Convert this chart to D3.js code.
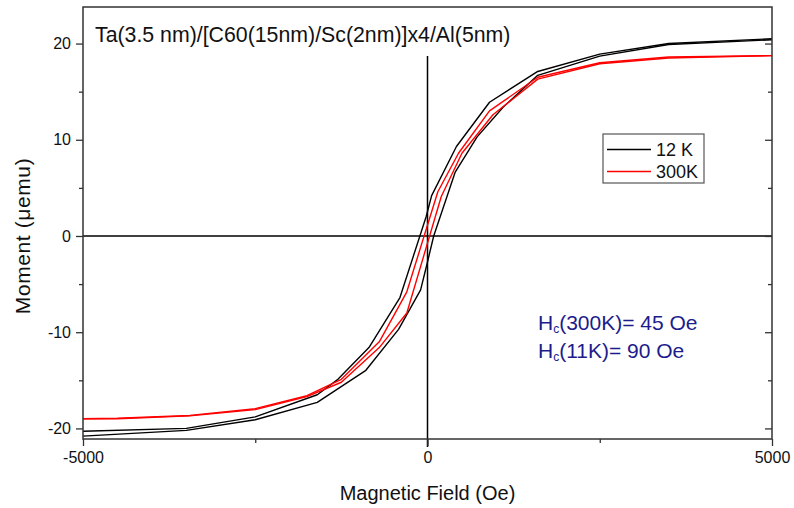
<!DOCTYPE html>
<html>
<head>
<meta charset="utf-8">
<script src="https://cdn.jsdelivr.net/npm/d3@7"></script>
<style>
  body { margin: 0; background: #fff; }
  svg text { font-family: "Liberation Sans", Arial, Helvetica, sans-serif; }
</style>
</head>
<body>
<div id="chart"></div>
<script>
// hysteresis loops, field (Oe) vs moment (uemu)
var k12Down = [[5000,20.5],[3500,20.0],[2500,18.9],[1600,17.1],[900,13.9],[420,9.3],[60,4.2],[-20,2.0],
  [-400,-6.4],[-850,-11.6],[-1300,-14.9],[-1600,-16.5],[-2500,-18.8],[-3500,-20.0],[-5000,-20.3]];
var k12Up = [[-5000,-20.8],[-3500,-20.2],[-2500,-19.1],[-1600,-17.3],[-900,-14.0],[-420,-9.7],[-100,-5.6],
  [0,-2.7],[90,0.0],[400,6.6],[720,10.3],[1100,13.4],[1600,16.7],[2500,18.7],[3500,19.9],[5000,20.4]];
var k300Down = [[5000,18.75],[3500,18.6],[2500,18.0],[1600,16.5],[900,13.0],[450,8.6],[150,4.6],[-300,-5.8],
  [-700,-11.0],[-1250,-14.9],[-1750,-16.6],[-2500,-17.95],[-3450,-18.65],[-4500,-18.95],[-5000,-19.0]];
var k300Up = [[-5000,-19.0],[-4500,-19.0],[-3450,-18.7],[-2500,-18.05],[-1750,-16.7],[-1250,-15.2],[-700,-11.6],
  [-300,-8.0],[200,4.1],[500,8.6],[950,12.6],[1600,16.3],[2500,17.9],[3500,18.5],[5000,18.75]];

var xMajor = [-5000, 0, 5000];
var xMinor = [-2500, 2500];
var yMajor = [-20, -10, 0, 10, 20];
var yMinor = [-15, -5, 5, 15];

var titleText = "Ta(3.5 nm)/[C60(15nm)/Sc(2nm)]x4/Al(5nm)";
var legendNames = ["12 K", "300K"];
var legendColors = ["#000000", "#ff0000"];
var noteLines = ["300K)= 45 Oe", "11K)= 90 Oe"];

var W = 794, H = 508;
var mLeft = 83, mRight = 772, mTop = 7, mBottom = 439;

var svg = d3.select('#chart').append('svg')
    .attr('width', W)
    .attr('height', H);

var x = d3.scaleLinear().domain([-5000, 5000]).range([mLeft, mRight]);
var y = d3.scaleLinear().domain([-21.1, 23.8]).range([mBottom, mTop]);

var axisColor = '#333';
var fmt = d => String(d); // plain hyphen minus like the original

// zero lines
svg.append('line')
    .attr('x1', mLeft).attr('x2', mRight)
    .attr('y1', y(0)).attr('y2', y(0))
    .attr('stroke', '#000').attr('stroke-width', 1.5);
svg.append('line')
    .attr('x1', x(0)).attr('x2', x(0))
    .attr('y1', y(18.7)).attr('y2', mBottom + 8)
    .attr('stroke', '#000').attr('stroke-width', 1.5);

// curves
var line = d3.line().x(d => x(d[0])).y(d => y(d[1]));
var curves = [
  { pts: k12Down, color: '#000' },
  { pts: k12Up, color: '#000' },
  { pts: k300Down, color: '#ff0000' },
  { pts: k300Up, color: '#ff0000' }
];
svg.append('g').selectAll('path')
    .data(curves)
    .enter()
    .append('path')
    .attr('d', d => line(d.pts))
    .attr('fill', 'none')
    .attr('stroke', d => d.color)
    .attr('stroke-width', 1.4)
    .attr('stroke-linejoin', 'round');

// frame
svg.append('rect')
    .attr('x', mLeft).attr('y', mTop)
    .attr('width', mRight - mLeft).attr('height', mBottom - mTop)
    .attr('fill', 'none').attr('stroke', axisColor).attr('stroke-width', 1.5);

function styleAxis(g) {
  g.select('.domain').remove();
  g.selectAll('.tick line').attr('stroke', axisColor).attr('stroke-width', 1.3);
  g.selectAll('.tick text').attr('fill', '#111').style('font-size', '16px');
}

// left axis
svg.append('g').attr('transform', 'translate(' + mLeft + ',0)')
    .call(d3.axisLeft(y).tickValues(yMajor).tickSize(7).tickPadding(5).tickFormat(fmt))
    .call(styleAxis);
svg.append('g').attr('transform', 'translate(' + mLeft + ',0)')
    .call(d3.axisLeft(y).tickValues(yMinor).tickSize(4).tickFormat(''))
    .call(styleAxis);
// right axis, inward ticks
svg.append('g').attr('transform', 'translate(' + mRight + ',0)')
    .call(d3.axisLeft(y).tickValues(yMajor).tickSize(7).tickFormat(''))
    .call(styleAxis);
svg.append('g').attr('transform', 'translate(' + mRight + ',0)')
    .call(d3.axisLeft(y).tickValues(yMinor).tickSize(4).tickFormat(''))
    .call(styleAxis);
// bottom axis
svg.append('g').attr('transform', 'translate(0,' + mBottom + ')')
    .call(d3.axisBottom(x).tickValues(xMajor).tickSize(7).tickPadding(6).tickFormat(fmt))
    .call(styleAxis);
svg.append('g').attr('transform', 'translate(0,' + mBottom + ')')
    .call(d3.axisBottom(x).tickValues(xMinor).tickSize(4).tickFormat(''))
    .call(styleAxis);

// axis titles
svg.append('text')
    .attr('x', (mLeft + mRight) / 2).attr('y', 500)
    .attr('text-anchor', 'middle')
    .style('font-size', '20px')
    .attr('fill', '#111')
    .text('Magnetic Field (Oe)');
svg.append('text')
    .attr('transform', 'translate(30,' + y(0) + ') rotate(-90)')
    .attr('text-anchor', 'middle')
    .style('font-size', '21px')
    .style('letter-spacing', '0.6px')
    .attr('fill', '#111')
    .text('Moment (\u03bcemu)');

// sample title inside the plot
svg.append('text')
    .attr('x', 95).attr('y', 42)
    .style('font-size', '21.3px')
    .attr('fill', '#111')
    .text(titleText);

// legend
var lg = svg.append('g').attr('transform', 'translate(603,134)');
lg.append('rect')
    .attr('width', 101).attr('height', 49)
    .attr('fill', '#fff').attr('stroke', '#555').attr('stroke-width', 1.2);
legendNames.forEach(function(n, i) {
  var yy = 15.5 + i * 22;
  lg.append('line')
      .attr('x1', 4).attr('x2', 48).attr('y1', yy).attr('y2', yy)
      .attr('stroke', legendColors[i]).attr('stroke-width', 1.4);
  lg.append('text')
      .attr('x', 53).attr('y', yy + 6.5)
      .style('font-size', '18px')
      .attr('fill', '#111')
      .text(n);
});

// coercive field note
var note = svg.append('g').attr('fill', '#1c1c8c');
noteLines.forEach(function(n, i) {
  var t = note.append('text').attr('x', 538).attr('y', 330 + i * 28).style('font-size', '21px');
  t.append('tspan').text('H');
  t.append('tspan').attr('dy', 3).style('font-size', '12px').text('c');
  t.append('tspan').attr('dy', -3).text('(' + n);
});
</script>
</body>
</html>
